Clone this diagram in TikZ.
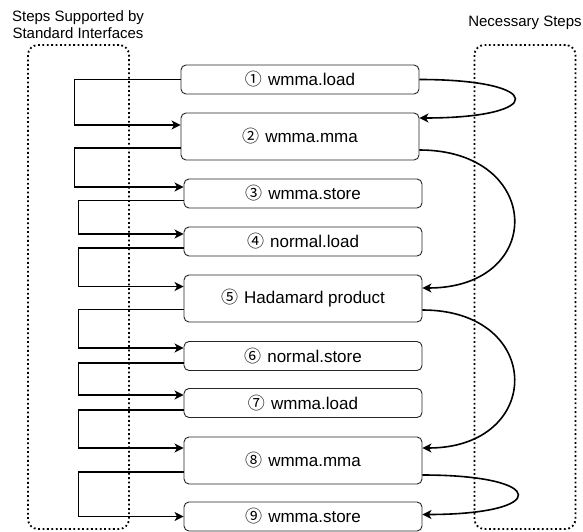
\documentclass[tikz,border=0pt]{standalone}
\usepackage{fontspec}
\setmainfont{Liberation Sans}
\newfontfamily\cfont{Noto Sans CJK SC}
\usetikzlibrary{arrows.meta}
\newcommand{\cd}[1]{{\cfont #1}\hspace{0.36em}}
\begin{document}
\begin{tikzpicture}[x=1pt,y=-1pt,
 stepbox/.style={draw=black!85, line width=0.9pt, rounded corners=5pt, fill=white, minimum width=238pt, inner sep=0pt, font=\fontsize{17}{20}\selectfont},
 shortbox/.style={stepbox, minimum height=29pt},
 tallbox/.style={stepbox, minimum height=47pt},
 conn/.style={line width=1.6pt, -{Stealth[length=9pt,width=9pt,inset=2.5pt]}},
 grp/.style={draw, line width=1.8pt, dash pattern=on 1.8pt off 2.6pt, rounded corners=10pt, minimum width=101pt, minimum height=484pt, inner sep=0pt},
 lbl/.style={font=\fontsize{15}{17}\selectfont, align=center, inner sep=0pt}]
\useasboundingbox (0,0) rectangle (583,532);

% groups
\node[grp] (grpL) at (78.5,287) {};
\node[grp] (grpR) at (525,287) {};
\node[lbl] (lblL) at (78,24.5) {Steps Supported by\\Standard Interfaces};
\node[lbl] (lblR) at (525,23) {Necessary Steps};

% steps
\node[shortbox] (b1) at (300,79.5) {\cd{①}wmma.load};
\node[tallbox]  (b2) at (300,136.5) {\cd{②}wmma.mma};
\node[shortbox] (b3) at (303,193.5) {\cd{③}wmma.store};
\node[shortbox] (b4) at (303,241.5) {\cd{④}normal.load};
\node[tallbox]  (b5) at (303,298.5) {\cd{⑤}Hadamard product};
\node[shortbox] (b6) at (303,356) {\cd{⑥}normal.store};
\node[shortbox] (b7) at (303,403) {\cd{⑦}wmma.load};
\node[tallbox]  (b8) at (303,460.5) {\cd{⑧}wmma.mma};
\node[shortbox] (b9) at (303,516.5) {\cd{⑨}wmma.store};

% left sequential connectors
\draw[conn] (b1.west) -- ++(-106,0) |- ([yshift=11.5pt]b2.west);
\draw[conn] ([yshift=-11.5pt]b2.west) -- ++(-106,0) |- ([yshift=6.5pt]b3.west);
\draw[conn] ([yshift=-7pt]b3.west) -- ++(-105,0) |- ([yshift=7.5pt]b4.west);
\draw[conn] ([yshift=-6.5pt]b4.west) -- ++(-105,0) |- ([yshift=12pt]b5.west);
\draw[conn] ([yshift=-11pt]b5.west) -- ++(-105,0) |- ([yshift=8pt]b6.west);
\draw[conn] ([yshift=-7pt]b6.west) -- ++(-105,0) |- ([yshift=8pt]b7.west);
\draw[conn] ([yshift=-7pt]b7.west) -- ++(-105,0) |- ([yshift=12.5pt]b8.west);
\draw[conn] ([yshift=-11.5pt]b8.west) -- ++(-105,0) |- (b9.west);

% right necessary-step curves
\draw[conn] (b1.east) .. controls +(127,0) and +(127,0) .. ([yshift=18.5pt]b2.east);
\draw[conn] ([yshift=-13.5pt]b2.east) .. controls +(124,0) and +(124,0) .. ([yshift=10.5pt]b5.east);
\draw[conn] ([yshift=-11.5pt]b5.east) .. controls +(122,0) and +(122,0) .. ([yshift=12.5pt]b8.east);
\draw[conn] ([yshift=-14.5pt]b8.east) .. controls +(127,0) and +(127,0) .. ([yshift=2pt]b9.east);
\end{tikzpicture}
\end{document}
